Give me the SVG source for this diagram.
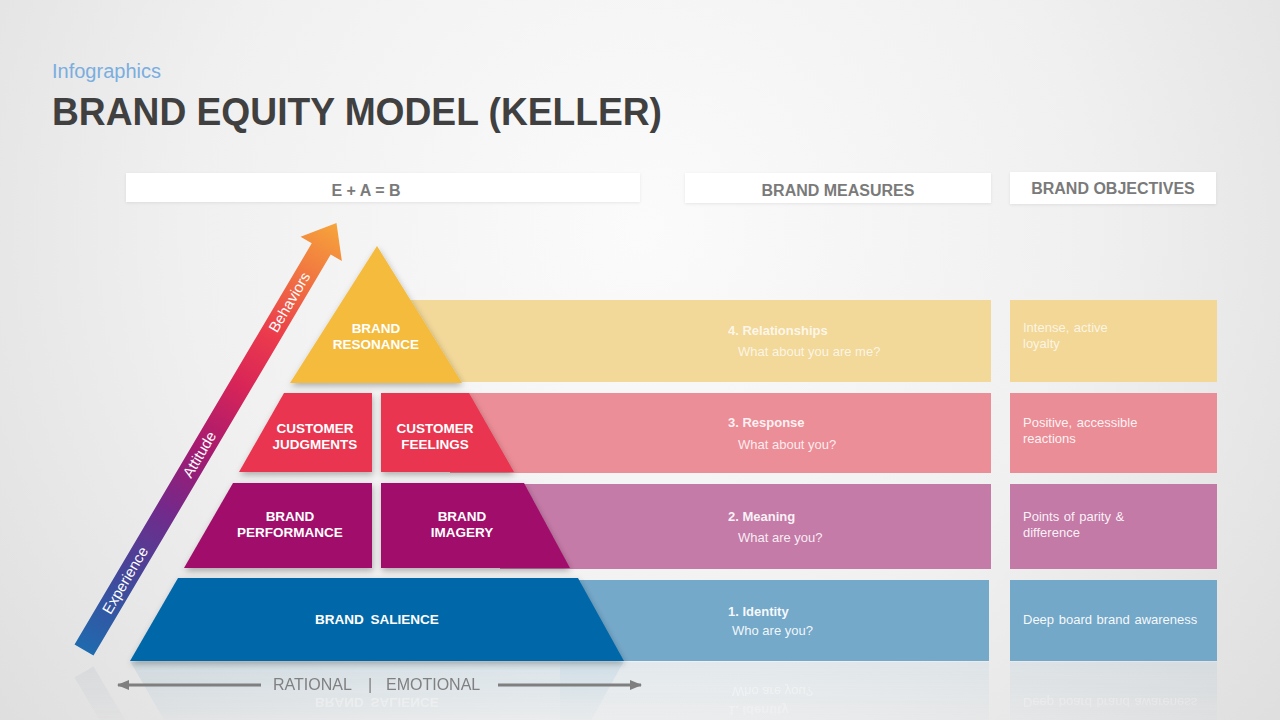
<svg xmlns="http://www.w3.org/2000/svg" width="1280" height="720" viewBox="0 0 1280 720">
  <defs>
    <radialGradient id="bg" cx="640" cy="230" r="820" gradientUnits="userSpaceOnUse">
      <stop offset="0" stop-color="#fbfbfb"/>
      <stop offset="0.55" stop-color="#f0f0f0"/>
      <stop offset="1" stop-color="#dedede"/>
    </radialGradient>
    <linearGradient id="arrowGrad" x1="0" y1="0" x2="496" y2="0" gradientUnits="userSpaceOnUse">
      <stop offset="0" stop-color="#1f6aae"/>
      <stop offset="0.17" stop-color="#43479a"/>
      <stop offset="0.33" stop-color="#74298a"/>
      <stop offset="0.47" stop-color="#a61a70"/>
      <stop offset="0.62" stop-color="#d82558"/>
      <stop offset="0.74" stop-color="#eb3b4c"/>
      <stop offset="0.86" stop-color="#f06f42"/>
      <stop offset="1" stop-color="#f6a53a"/>
    </linearGradient>
    <linearGradient id="fade" x1="0" y1="662" x2="0" y2="720" gradientUnits="userSpaceOnUse">
      <stop offset="0" stop-color="#fff" stop-opacity="0.9"/>
      <stop offset="1" stop-color="#fff" stop-opacity="0.15"/>
    </linearGradient>
    <mask id="reflMask" maskUnits="userSpaceOnUse" x="0" y="662" width="1280" height="58">
      <rect x="0" y="662" width="1280" height="58" fill="url(#fade)"/>
    </mask>
    <filter id="shadow" x="-20%" y="-20%" width="140%" height="150%">
      <feDropShadow dx="1" dy="3" stdDeviation="3" flood-color="#000" flood-opacity="0.28"/>
    </filter>
    <filter id="softShadow" x="-10%" y="-30%" width="120%" height="180%">
      <feDropShadow dx="0" dy="1" stdDeviation="1.5" flood-color="#000" flood-opacity="0.08"/>
    </filter>
    <marker id="arrowHead" markerWidth="12" markerHeight="10" refX="11" refY="5" orient="auto-start-reverse" markerUnits="userSpaceOnUse">
      <path d="M0,0 L12,5 L0,10 Z" fill="#7f7f7f"/>
    </marker>
  </defs>
  <style>
    .sans { font-family: "Liberation Sans", Arial, sans-serif; }
    .hdr { font-family: "Liberation Sans", Arial, sans-serif; font-weight: bold; font-size: 16px; fill: #7a7a7a; text-anchor: middle; }
    .pyr { font-family: "Liberation Sans", Arial, sans-serif; font-weight: bold; font-size: 13.5px; fill: #ffffff; text-anchor: middle; }
    .mtitle { font-family: "Liberation Sans", Arial, sans-serif; font-weight: bold; font-size: 13px; fill: #ffffff; }
    .msub { font-family: "Liberation Sans", Arial, sans-serif; font-size: 13px; fill: #ffffff; }
    .obj { font-family: "Liberation Sans", Arial, sans-serif; font-size: 13px; fill: #ffffff; word-spacing: 1px; }
    .arr { font-family: "Liberation Sans", Arial, sans-serif; font-size: 15px; fill: #ffffff; text-anchor: middle; }
    .axis { font-family: "Liberation Sans", Arial, sans-serif; font-size: 16px; fill: #808080; }
  </style>

  <!-- background -->
  <rect x="0" y="0" width="1280" height="720" fill="url(#bg)"/>

  <!-- titles -->
  <g id="title">
    <text x="52" y="78" class="sans" font-size="20" fill="#7aaee0">Infographics</text>
    <text x="52" y="125" class="sans" font-size="38" font-weight="bold" fill="#404040" textLength="610" lengthAdjust="spacingAndGlyphs">BRAND EQUITY MODEL (KELLER)</text>
  </g>

  <!-- column headers -->
  <g id="header-eab">
    <rect x="126" y="173" width="514" height="29" fill="#ffffff" filter="url(#softShadow)"/>
    <text x="366" y="196" class="hdr">E + A = B</text>
  </g>
  <g id="header-measures">
    <rect x="685" y="173" width="306" height="30" fill="#ffffff" filter="url(#softShadow)"/>
    <text x="838" y="196" class="hdr">BRAND MEASURES</text>
  </g>
  <g id="header-objectives">
    <rect x="1010" y="172" width="206" height="32" fill="#ffffff" filter="url(#softShadow)"/>
    <text x="1113" y="194" class="hdr">BRAND OBJECTIVES</text>
  </g>

  <!-- measure bands (behind pyramid) -->
  <g id="band-4">
    <rect x="410" y="300" width="581" height="82" fill="#f2d899"/>
    <text x="728" y="335" class="mtitle" fill-opacity="0.8">4. Relationships</text>
    <text x="738" y="356" class="msub" fill-opacity="0.75">What about you are me?</text>
  </g>
  <g id="band-3">
    <rect x="450" y="393" width="541" height="80" fill="#ec8e98"/>
    <text x="728" y="427" class="mtitle" fill-opacity="0.9">3. Response</text>
    <text x="738" y="449" class="msub" fill-opacity="0.85">What about you?</text>
  </g>
  <g id="band-2">
    <rect x="500" y="484" width="491" height="85" fill="#c57ba8"/>
    <text x="728" y="521" class="mtitle" fill-opacity="0.92">2. Meaning</text>
    <text x="738" y="542" class="msub" fill-opacity="0.88">What are you?</text>
  </g>
  <g id="band-1">
    <rect x="560" y="580" width="429" height="81" fill="#75a9ca"/>
    <text x="728" y="616" class="mtitle" fill-opacity="0.95">1. Identity</text>
    <text x="732" y="635" class="msub" fill-opacity="0.92">Who are you?</text>
  </g>

  <!-- objectives -->
  <g id="objective-4">
    <rect x="1010" y="300" width="207" height="82" fill="#f2d796"/>
    <text class="obj" fill-opacity="0.75"><tspan x="1023" y="332">Intense, active</tspan><tspan x="1023" y="348">loyalty</tspan></text>
  </g>
  <g id="objective-3">
    <rect x="1010" y="393" width="207" height="80" fill="#eb8d97"/>
    <text class="obj" fill-opacity="0.9"><tspan x="1023" y="427">Positive, accessible</tspan><tspan x="1023" y="443">reactions</tspan></text>
  </g>
  <g id="objective-2">
    <rect x="1010" y="484" width="207" height="85" fill="#c47aa7"/>
    <text class="obj" fill-opacity="0.92"><tspan x="1023" y="521">Points of parity &amp;</tspan><tspan x="1023" y="537">difference</tspan></text>
  </g>
  <g id="objective-1">
    <rect x="1010" y="580" width="207" height="81" fill="#74a8c9"/>
    <text x="1023" y="624" class="obj" fill-opacity="0.95">Deep board brand awareness</text>
  </g>

  <!-- pyramid -->
  <g id="brand-resonance">
    <polygon points="377,246 462,383 290,383" fill="#f4bb3c" filter="url(#shadow)"/>
    <text x="376" y="333" class="pyr">BRAND</text>
    <text x="376" y="349" class="pyr">RESONANCE</text>
  </g>
  <g id="customer-judgments">
    <polygon points="284,393 372,393 372,472 239,472" fill="#e9344f" filter="url(#shadow)"/>
    <text x="315" y="433" class="pyr">CUSTOMER</text>
    <text x="315" y="449" class="pyr">JUDGMENTS</text>
  </g>
  <g id="customer-feelings">
    <polygon points="381,393 469,393 514,472 381,472" fill="#e9344f" filter="url(#shadow)"/>
    <text x="435" y="433" class="pyr">CUSTOMER</text>
    <text x="435" y="449" class="pyr">FEELINGS</text>
  </g>
  <g id="brand-performance">
    <polygon points="233,483 372,483 372,568 184,568" fill="#a10f6b" filter="url(#shadow)"/>
    <text x="290" y="521" class="pyr">BRAND</text>
    <text x="290" y="537" class="pyr">PERFORMANCE</text>
  </g>
  <g id="brand-imagery">
    <polygon points="381,483 524,483 570,568 381,568" fill="#a10f6b" filter="url(#shadow)"/>
    <text x="462" y="521" class="pyr">BRAND</text>
    <text x="462" y="537" class="pyr">IMAGERY</text>
  </g>
  <g id="brand-salience">
    <polygon points="178,578 578,578 624,661 130,661" fill="#0468a9" filter="url(#shadow)"/>
    <text x="377" y="624" class="pyr" word-spacing="3">BRAND SALIENCE</text>
  </g>

  <!-- diagonal growth arrow -->
  <g id="growth-arrow" transform="translate(84,650) rotate(-59.4)">
    <path d="M0,-11 L466,-11 L466,-24 L496,0 L466,24 L466,11 L0,11 Z" fill="url(#arrowGrad)"/>
    <text x="81" y="5" class="arr">Experience</text>
    <text x="227" y="5" class="arr">Attitude</text>
    <text x="404" y="5" class="arr">Behaviors</text>
  </g>

  <!-- reflection -->
  <g id="reflection" mask="url(#reflMask)">
    <g transform="translate(0,1322) scale(1,-1)">
      <polygon points="178,578 578,578 624,661 130,661" fill="#0468a9" opacity="0.1"/>
      <rect x="560" y="580" width="429" height="81" fill="#75a9ca" opacity="0.12"/>
      <rect x="1010" y="580" width="207" height="81" fill="#74a8c9" opacity="0.12"/>
      <g transform="translate(84,650) rotate(-59.4)">
        <rect x="0" y="-11" width="120" height="22" fill="#7a8fa8" opacity="0.12"/>
      </g>
      <g opacity="0.55">
        <text x="377" y="624" class="pyr" word-spacing="3">BRAND SALIENCE</text>
        <text x="728" y="616" class="mtitle">1. Identity</text>
        <text x="732" y="635" class="msub">Who are you?</text>
        <text x="1023" y="624" class="obj">Deep board brand awareness</text>
      </g>
    </g>
  </g>

  <!-- rational / emotional axis -->
  <g id="connectors">
    <line x1="261" y1="685" x2="118" y2="685" stroke="#7f7f7f" stroke-width="3" marker-end="url(#arrowHead)"/>
    <line x1="498" y1="685" x2="641" y2="685" stroke="#7f7f7f" stroke-width="3" marker-end="url(#arrowHead)"/>
  </g>
  <g id="axis-label">
    <text x="273" y="690" class="axis">RATIONAL</text>
    <text x="370" y="690" class="axis" text-anchor="middle">|</text>
    <text x="386" y="690" class="axis">EMOTIONAL</text>
  </g>
</svg>
